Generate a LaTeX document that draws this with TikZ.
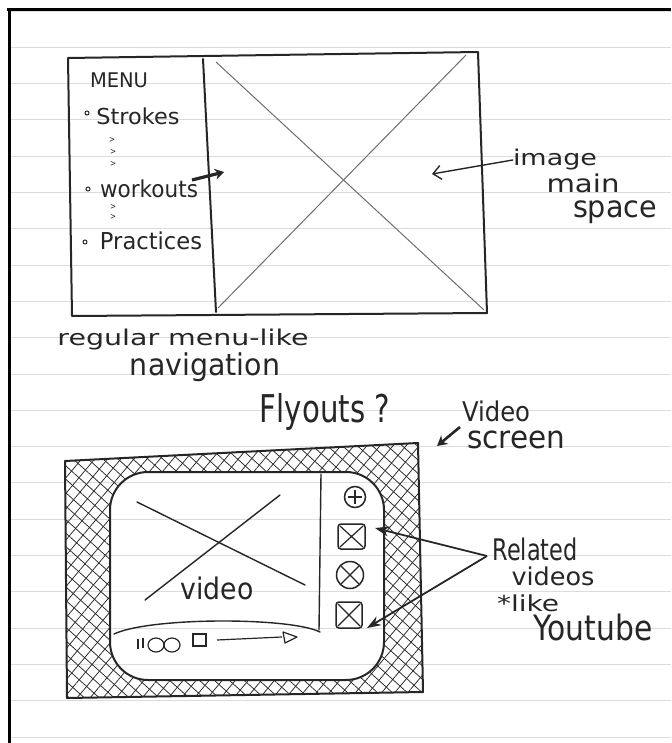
\documentclass[tikz,border=0pt]{standalone}
\usepackage{fontspec}
\setmainfont{DejaVu Sans}
\usepackage{graphicx}
\usetikzlibrary{arrows.meta,patterns.meta}
\definecolor{pen}{HTML}{262626}
\definecolor{ruleline}{HTML}{DCDCDC}
\definecolor{pencil}{HTML}{6E6E6E}
\newcommand{\hw}[3]{\resizebox*{#1pt}{#2pt}{#3}}
\begin{document}
\begin{tikzpicture}[x=1pt,y=-1pt,
  ink/.style={draw=pen,line width=2pt,line join=round,line cap=round},
  thinink/.style={draw=pen,line width=1.4pt,line cap=round},
  pencilline/.style={draw=pencil,line width=1pt},
  txt/.style={inner sep=0pt,text=pen,anchor=center},
  hatchA/.style={pattern={Lines[angle=50,distance=10pt,line width=0.75pt]},pattern color=pen},
  hatchB/.style={pattern={Lines[angle=-42,distance=10pt,line width=0.75pt]},pattern color=pen}]
\useasboundingbox (0,0) rectangle (671,743);
\fill[white] (0,0) rectangle (671,743);
% ruled paper lines
\foreach \k in {0,...,20}{
  \draw[ruleline,line width=0.9pt] (10,{11+36.3*\k}) -- (671,{11+36.3*\k});
}
% frame
\draw[black,line width=3pt] (7,9.5) -- (671,9.5);
\draw[black,line width=3pt] (9,8) -- (9,743);

% ---------- top wireframe ----------
\draw[ink] (68,58) -- (478,52) -- (487,313) -- (72,316) -- cycle;
\draw[ink] (203,59) -- (216,312);
\draw[pencilline] (216,62) -- (484,310);
\draw[pencilline] (218,308) -- (466,55);

\node[txt] (menu) at (119,80) {\hw{58}{15}{MENU}};
\draw[pen,line width=1pt] (87,113) circle (2);
\node[txt] (strokes) at (138,116) {\hw{83}{17}{Strokes}};
\node[txt] (ch1) at (112,140) {\hw{6}{5}{>}};
\node[txt] (ch2) at (113,152) {\hw{6}{5}{>}};
\node[txt] (ch3) at (113,164) {\hw{6}{5}{>}};
\draw[pen,line width=1pt] (88,189) circle (2);
\node[txt] (workouts) at (149,189) {\hw{98}{18}{workouts}};
\node[txt] (ch4) at (113,207) {\hw{6}{5}{>}};
\node[txt] (ch5) at (113,217) {\hw{6}{5}{>}};
\draw[pen,line width=1pt] (85,242) circle (2);
\node[txt] (practices) at (151,241) {\hw{102}{18}{Practices}};

\coordinate (wkA) at (192,180);
\coordinate (wkB) at (224,172);
\draw[draw=pen,line width=3.2pt,-{Stealth[length=9pt,width=11pt]}] (wkA) -- (wkB);

\node[txt] (image) at (555,160) {\hw{84}{21}{image}};
\node[txt] (main) at (583,183) {\hw{73}{19}{main}};
\node[txt] (space) at (615,212) {\hw{84}{23}{space}};
\coordinate (imgtip) at (432,174);
\draw[thinink,-{Straight Barb[length=8pt,width=14pt]}] (image.west) -- (imgtip);

\node[txt] (regular) at (183,340) {\hw{251}{21}{regular menu-like}};
\node[txt] (navigation) at (205,367) {\hw{150}{29}{navigation}};

% ---------- bottom video sketch ----------
\node[txt] (flyouts) at (325,412) {\hw{130}{37}{Flyouts ?}};
\node[txt] (videolbl) at (496,411) {\hw{68}{21}{Video}};
\node[txt] (screen) at (516,440) {\hw{98}{18}{screen}};
\coordinate (vsA) at (460,427);
\coordinate (vsB) at (437,446);
\draw[draw=pen,line width=2.6pt,-{Stealth[length=10pt,width=11pt]}] (vsA) -- (vsB);

% hatched frame
\path[hatchA,even odd rule] (65,461) -- (418,443) -- (423,692) -- (67,698) -- cycle
   [rounded corners=38pt] (110,472) rectangle (384,680);
\path[hatchB,even odd rule] (65,461) -- (418,443) -- (423,692) -- (67,698) -- cycle
   [rounded corners=38pt] (110,472) rectangle (384,680);
\draw[ink] (65,461) -- (418,443) -- (423,692) -- (67,698) -- cycle;
\draw[ink,rounded corners=38pt] (110,472) rectangle (384,680);

% divider and video placeholder
\draw[thinink] (321,474) -- (319,630);
\draw[thinink] (137,502) -- (305,585);
\draw[thinink] (145,600) -- (280,495);
\node[txt] (videotxt) at (217,588) {\hw{73}{23}{video}};

% control bar
\draw[thinink] (114,634) .. controls (150,617) and (290,617) .. (320,632);
\draw[pen,line width=1.2pt] (138,639) -- (138,649);
\draw[pen,line width=1.2pt] (143,638) -- (143,648);
\draw[pen,line width=1.2pt] (156,645) ellipse (8 and 7);
\draw[pen,line width=1.2pt] (172,645) ellipse (8 and 7);
\draw[pen,line width=1.2pt] (193,634) rectangle (206,646);
\draw[pen,line width=1.2pt] (217,640) -- (282,637);
\draw[pen,line width=1.2pt,line join=round] (283,632) -- (297,637) -- (285,643) -- cycle;

% related video icons
\draw[pen,line width=1.5pt] (355,497) circle (10.5);
\draw[pen,line width=1.2pt] (348,497) -- (362,497) (355,490) -- (355,504);
\draw[pen,line width=1.5pt,rounded corners=3pt] (338,524) rectangle (365,549);
\draw[pen,line width=1.2pt] (340,526) -- (363,547) (340,547) -- (363,526);
\draw[pen,line width=1.5pt] (350,575) circle (13.5);
\draw[pen,line width=1.2pt] (341,566) -- (359,584) (341,584) -- (359,566);
\draw[pen,line width=1.5pt,rounded corners=3pt] (336,602) rectangle (362,628);
\draw[pen,line width=1.2pt] (338,604) -- (360,626) (338,626) -- (360,604);

% related label and arrows
\node[txt] (related) at (535,549) {\hw{85}{23}{Related}};
\node[txt] (videos) at (553,576) {\hw{83}{19}{videos}};
\node[txt] (like) at (528,603) {\hw{62}{17}{*like}};
\node[txt] (youtube) at (593,627) {\hw{119}{27}{Youtube}};
\coordinate (relsrc) at (487,556);
\coordinate (tipA) at (375,528);
\coordinate (tipB) at (367,628);
\draw[draw=pen,line width=1.8pt,-{Stealth[length=14pt,width=10pt]}] (relsrc) -- (tipA);
\draw[draw=pen,line width=1.8pt,-{Stealth[length=14pt,width=10pt]}] (relsrc) -- (tipB);
\end{tikzpicture}
\end{document}
